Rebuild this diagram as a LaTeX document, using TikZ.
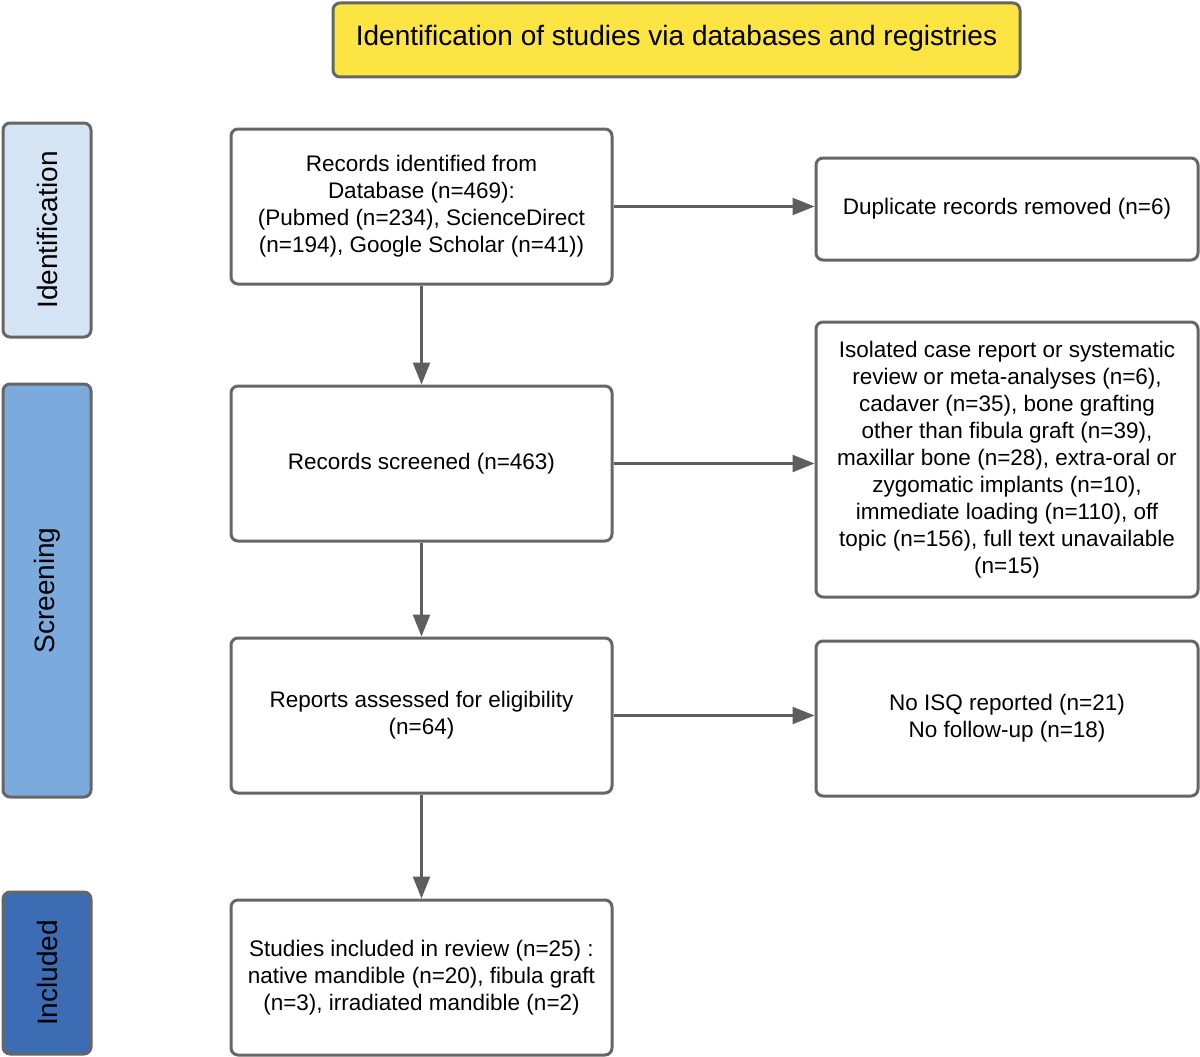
\documentclass[tikz,border=0pt]{standalone}
\usepackage{fontspec}
\setmainfont{Liberation Sans}
\usetikzlibrary{arrows.meta}
\definecolor{bordergray}{HTML}{666666}
\definecolor{arrowgray}{HTML}{5E5E5E}
\definecolor{titleyellow}{HTML}{FCE443}
\definecolor{idblue}{HTML}{D4E4F5}
\definecolor{scrblue}{HTML}{7BABDD}
\definecolor{incblue}{HTML}{3B6CB4}
\tikzset{
  box/.style={draw=bordergray, line width=3pt, rounded corners=7pt, fill=white,
    align=center, inner sep=0pt, font=\fontsize{22.5}{27}\selectfont},
  sidebox/.style={draw=bordergray, line width=3pt, rounded corners=7pt,
    rotate=90, inner sep=0pt, font=\fontsize{28}{34}\selectfont},
  flow/.style={draw=arrowgray, line width=2.5pt, -{Triangle[length=22pt,width=17pt]}}
}
\begin{document}
\begin{tikzpicture}[x=1pt,y=-1pt]
\useasboundingbox (0,0) rectangle (1200,1057);
% title
\node[box, fill=titleyellow, minimum width=687pt, minimum height=74pt,
  text depth=10pt, font=\fontsize{28}{34}\selectfont] (title) at (676.5,40)
  {Identification of studies via databases and registries};
% side labels
\node[sidebox, fill=idblue, minimum width=214pt, minimum height=88pt] (sideid) at (47,230) {Identification};
\node[sidebox, fill=scrblue, minimum width=413pt, minimum height=88pt] (sidescr) at (47,590.5) {Screening};
\node[sidebox, fill=incblue, minimum width=162pt, minimum height=88pt] (sideinc) at (47,973) {Included};
% main boxes
\node[box, minimum width=381pt, minimum height=155pt] (ident) at (421.5,206.5)
  {Records identified from\\Database (n=469):\\(Pubmed (n=234), ScienceDirect\\(n=194), Google Scholar (n=41))};
\node[box, minimum width=382pt, minimum height=102pt] (dup) at (1007,209)
  {Duplicate records removed (n=6)};
\node[box, minimum width=381pt, minimum height=155pt] (screen) at (421.5,463.5)
  {Records screened (n=463)};
\node[box, minimum width=382pt, minimum height=275pt] (excl) at (1007,459.5)
  {Isolated case report or systematic\\review or meta-analyses (n=6),\\cadaver (n=35), bone grafting\\other than fibula graft (n=39),\\maxillar bone (n=28), extra-oral or\\zygomatic implants (n=10),\\immediate loading (n=110), off\\topic (n=156), full text unavailable\\(n=15)};
\node[box, minimum width=381pt, minimum height=155pt] (reports) at (421.5,715.5)
  {Reports assessed for eligibility\\(n=64)};
\node[box, minimum width=382pt, minimum height=155pt] (noisq) at (1007,718.5)
  {No ISQ reported (n=21)\\No follow-up (n=18)};
\node[box, minimum width=381pt, minimum height=155pt] (studies) at (421.5,977.5)
  {Studies included in review (n=25) :\\native mandible (n=20), fibula graft\\(n=3), irradiated mandible (n=2)};
% connectors
\draw[flow] (ident.south) -- (screen.north);
\draw[flow] (screen.south) -- (reports.north);
\draw[flow] (reports.south) -- (studies.north);
\draw[flow] (ident.east) -- (dup.west |- ident.east);
\draw[flow] (screen.east) -- (excl.west |- screen.east);
\draw[flow] (reports.east) -- (noisq.west |- reports.east);
\end{tikzpicture}
\end{document}
